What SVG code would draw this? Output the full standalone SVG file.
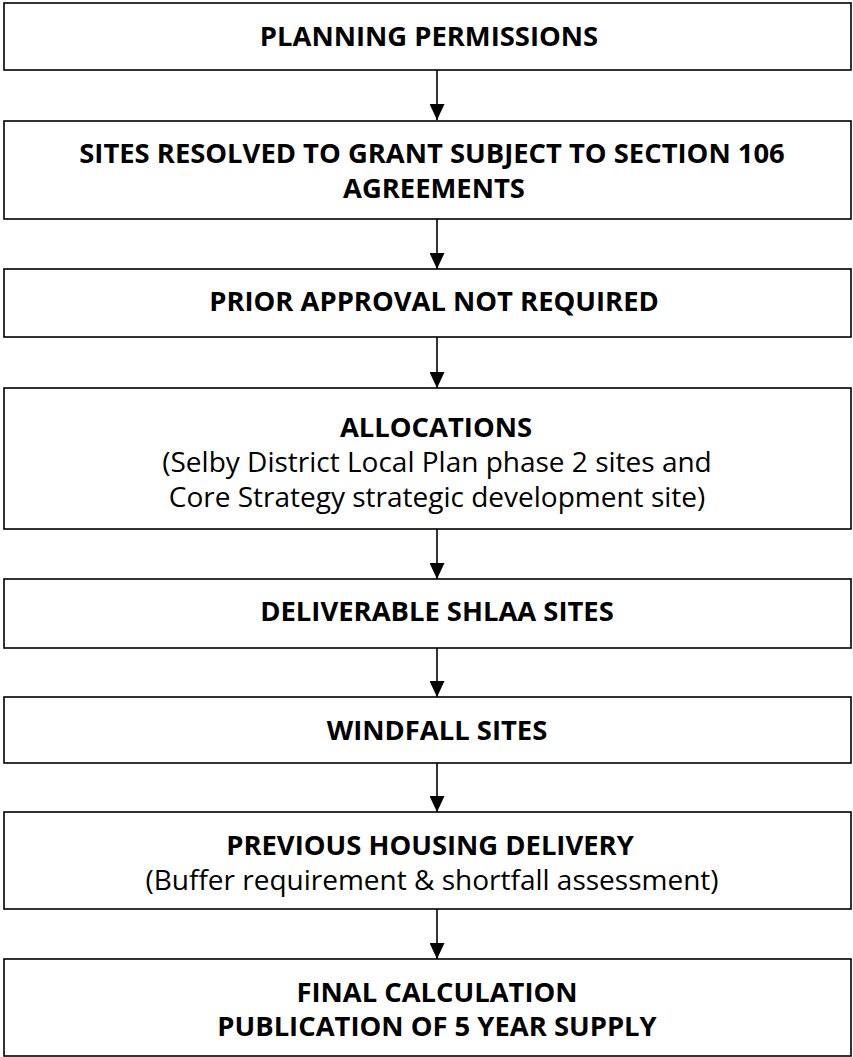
<svg xmlns="http://www.w3.org/2000/svg" width="853" height="1057" viewBox="0 0 853 1057">
<defs>
<style>
.box{fill:#fff;stroke:#000;stroke-width:1.6}
.b{font-family:"Open Sans","Liberation Sans",sans-serif;font-weight:bold;font-size:27.4px;fill:#000;text-anchor:middle}
.r{font-family:"Open Sans","Liberation Sans",sans-serif;font-size:28px;fill:#000;text-anchor:middle}
.c{stroke:#000;stroke-width:1.6;fill:none}
</style>
<marker id="ah" markerWidth="16" markerHeight="15" refX="16" refY="7.5" orient="auto" markerUnits="userSpaceOnUse">
<path d="M0,0 L16,7.5 L0,15 Z" fill="#000"/>
</marker>
</defs>
<rect width="853" height="1057" fill="#fff"/>
<g id="connectors">
<line class="c" x1="437" y1="70" x2="437" y2="120" marker-end="url(#ah)"/>
<line class="c" x1="437" y1="219" x2="437" y2="269" marker-end="url(#ah)"/>
<line class="c" x1="437" y1="337" x2="437" y2="388" marker-end="url(#ah)"/>
<line class="c" x1="437" y1="529" x2="437" y2="579" marker-end="url(#ah)"/>
<line class="c" x1="437" y1="648" x2="437" y2="697" marker-end="url(#ah)"/>
<line class="c" x1="437" y1="763" x2="437" y2="812" marker-end="url(#ah)"/>
<line class="c" x1="437" y1="909" x2="437" y2="959" marker-end="url(#ah)"/>
</g>
<g id="n1"><rect class="box" x="4" y="3" width="847" height="67"/><text class="b" x="429" y="46">PLANNING PERMISSIONS</text></g>
<g id="n2"><rect class="box" x="4" y="121" width="847" height="98"/><text class="b" x="432" y="163">SITES RESOLVED TO GRANT SUBJECT TO SECTION 106</text><text class="b" x="434" y="198">AGREEMENTS</text></g>
<g id="n3"><rect class="box" x="4" y="269" width="847" height="68"/><text class="b" x="434" y="311">PRIOR APPROVAL NOT REQUIRED</text></g>
<g id="n4"><rect class="box" x="4" y="388" width="847" height="141"/><text class="b" x="436" y="437">ALLOCATIONS</text><text class="r" x="437" y="472">(Selby District Local Plan phase 2 sites and</text><text class="r" x="437" y="507">Core Strategy strategic development site)</text></g>
<g id="n5"><rect class="box" x="4" y="579" width="847" height="69"/><text class="b" x="437" y="621">DELIVERABLE SHLAA SITES</text></g>
<g id="n6"><rect class="box" x="4" y="697" width="847" height="66"/><text class="b" x="437" y="740">WINDFALL SITES</text></g>
<g id="n7"><rect class="box" x="4" y="812" width="847" height="97"/><text class="b" x="430" y="855">PREVIOUS HOUSING DELIVERY</text><text class="r" x="432" y="890">(Buffer requirement &amp; shortfall assessment)</text></g>
<g id="n8"><rect class="box" x="4" y="959" width="847" height="97"/><text class="b" x="437" y="1002">FINAL CALCULATION</text><text class="b" x="437" y="1036">PUBLICATION OF 5 YEAR SUPPLY</text></g>
</svg>
